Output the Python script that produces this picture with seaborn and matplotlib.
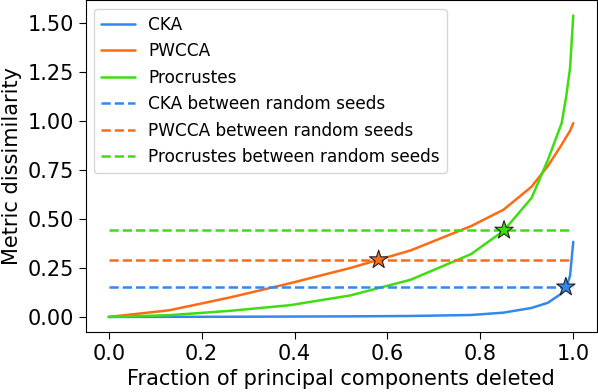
import matplotlib
matplotlib.use('Agg')
import matplotlib.pyplot as plt
import seaborn as sns
import pandas as pd

# ----------------------
# Data
frac_deleted = [0, 0.13, 0.26, 0.39, 0.52, 0.65, 0.78, 0.85, 0.91, 0.945, 0.975, 0.985, 0.993, 1.0]
cka = [0, 0.0005, 0.001, 0.002, 0.003, 0.005, 0.01, 0.022, 0.046, 0.072, 0.12, 0.15, 0.21, 0.384]
pwcca = [0, 0.034, 0.099, 0.172, 0.25, 0.34, 0.464, 0.548, 0.665, 0.77, 0.88, 0.92, 0.95, 0.99]
procrustes = [0, 0.009, 0.031, 0.06, 0.11, 0.19, 0.321, 0.44, 0.607, 0.8, 0.99, 1.13, 1.27, 1.54]

metrics = ['CKA', 'PWCCA', 'Procrustes']
seed_baseline = [0.151, 0.292, 0.443]
star_x = [0.984, 0.581, 0.851]
star_y = [0.153, 0.292, 0.443]

colors = ['#3388ee', '#ff6a13', '#3fdd10']

# ----------------------
sns.set_style('ticks', {'axes.edgecolor': 'black', 'text.color': 'black',
                        'axes.labelcolor': 'black', 'xtick.color': 'black',
                        'ytick.color': 'black'})
plt.rcParams['font.family'] = ['DejaVu Sans']

fig, ax = plt.subplots(figsize=(5.98, 3.92), dpi=100)
fig.subplots_adjust(left=0.143, right=0.9975, top=0.999, bottom=0.153)

for name, vals, c in zip(metrics, [cka, pwcca, procrustes], colors):
    sns.lineplot(x=frac_deleted, y=vals, ax=ax, color=c, lw=1.8, label=name)

for name, v, c in zip(metrics, seed_baseline, colors):
    sns.lineplot(x=[0, 1], y=[v, v], ax=ax, color=c, lw=1.8, linestyle='--',
                 label=name + ' between random seeds')

stars = pd.DataFrame({'x': star_x, 'y': star_y, 'metric': metrics})
sns.scatterplot(data=stars, x='x', y='y', hue='metric', palette=colors, marker='*',
                s=190, edgecolor='#222222', linewidth=0.8, ax=ax, zorder=5, legend=False)

ax.set_xticks([0.0, 0.2, 0.4, 0.6, 0.8, 1.0])
ax.set_yticks([0.0, 0.25, 0.5, 0.75, 1.0, 1.25, 1.5])
ax.set_yticklabels(['0.00', '0.25', '0.50', '0.75', '1.00', '1.25', '1.50'])
ax.tick_params(labelsize=15, length=5)
ax.set_xlabel('Fraction of principal components deleted', fontsize=15)
ax.set_ylabel('Metric dissimilarity', fontsize=15)
ax.legend(loc='upper left', fontsize=12.2)

plt.savefig('out.png', dpi=100)
plt.close()
